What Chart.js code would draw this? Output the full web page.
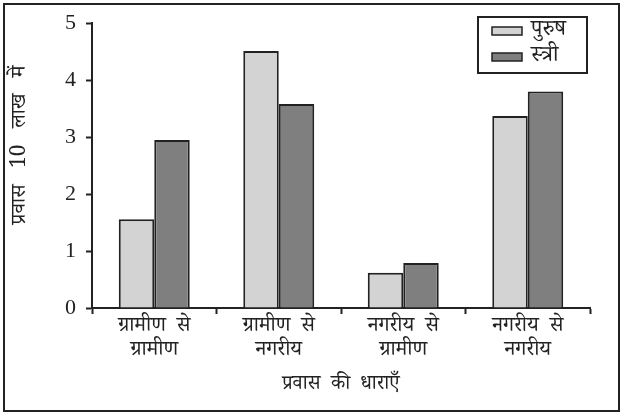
<!DOCTYPE html>
<html>
<head>
<meta charset="utf-8">
<script src="https://cdn.jsdelivr.net/npm/chart.js@4"></script>
<style>
  html, body { margin: 0; padding: 0; background: #fff; }
  #wrap { position: relative; width: 623px; height: 415px; }
  #frame { position: absolute; left: 3px; top: 3px; width: 613px; height: 405px; border: 2px solid #222; box-sizing: content-box; pointer-events: none; }
</style>
</head>
<body>
<div id="wrap">
  <canvas id="migChart" width="623" height="415"></canvas>
  <div id="frame"></div>
</div>
<script>
const categories = [
  ["ग्रामीण  से", "ग्रामीण"],
  ["ग्रामीण  से", "नगरीय"],
  ["नगरीय  से", "ग्रामीण"],
  ["नगरीय  से", "नगरीय"],
];
const seriesNames = ["पुरुष", "स्त्री"];
const maleValues = [1.56, 4.51, 0.62, 3.37];
const femaleValues = [2.95, 3.58, 0.79, 3.80];
const yTicks = [0, 1, 2, 3, 4, 5];
const yTitle = "प्रवास   10   लाख   में";
const xTitle = "प्रवास  की  धाराएँ";

const devaFont = "'Noto Serif Devanagari', 'Noto Sans Devanagari', 'Liberation Serif', serif";
const numFont = "'Liberation Serif', 'DejaVu Serif', serif";

// legend box in the top right, plus the vertical axis title (sits a bit above centre)
const extras = {
  id: "extras",
  afterDraw(chart) {
    const ctx = chart.ctx;
    const x = 478, y = 17, w = 109, h = 56;
    ctx.save();
    ctx.fillStyle = "#fff";
    ctx.fillRect(x, y, w, h);
    ctx.lineWidth = 2;
    ctx.strokeStyle = "#222";
    ctx.strokeRect(x, y, w, h);
    chart.data.datasets.forEach((ds, i) => {
      const sy = y + 14 + i * 26;
      ctx.fillStyle = ds.backgroundColor;
      ctx.fillRect(x + 14, sy - 4, 30, 8);
      ctx.lineWidth = 1.5;
      ctx.strokeStyle = "#222";
      ctx.strokeRect(x + 14, sy - 4, 30, 8);
      ctx.fillStyle = "#222";
      ctx.font = "22px " + devaFont;
      ctx.textBaseline = "middle";
      ctx.fillText(ds.label, x + 53, sy + 2);
    });

    ctx.translate(23, 145);
    ctx.rotate(-Math.PI / 2);
    ctx.font = "21px " + devaFont;
    ctx.textAlign = "center";
    ctx.textBaseline = "middle";
    ctx.fillStyle = "#222";
    ctx.fillText(yTitle, 0, 0);
    ctx.restore();
  },
};

new Chart(document.getElementById("migChart"), {
  type: "bar",
  data: {
    labels: categories,
    datasets: [
      {
        label: seriesNames[0],
        data: maleValues,
        backgroundColor: "#d3d3d3",
        borderColor: "#222",
        borderWidth: 2,
        categoryPercentage: 0.57,
        barPercentage: 1.0,
      },
      {
        label: seriesNames[1],
        data: femaleValues,
        backgroundColor: "#7f7f7f",
        borderColor: "#222",
        borderWidth: 2,
        categoryPercentage: 0.57,
        barPercentage: 1.0,
      },
    ],
  },
  options: {
    responsive: false,
    animation: false,
    layout: { padding: { top: 22, right: 33, left: 0, bottom: 0 } },
    plugins: {
      legend: { display: false },
      tooltip: { enabled: false },
    },
    scales: {
      x: {
        afterFit: (s) => { s.height = 107; },
        grid: {
          offset: true,
          drawOnChartArea: false,
          drawTicks: true,
          tickLength: 6,
          tickWidth: 2,
          tickColor: "#222",
        },
        border: { color: "#222", width: 2 },
        ticks: {
          color: "#222",
          padding: 3,
          maxRotation: 0,
          font: { family: devaFont, size: 21, lineHeight: 1.15 },
        },
        title: {
          display: true,
          text: xTitle,
          color: "#222",
          font: { family: devaFont, size: 20 },
          padding: { top: 0, bottom: 16 },
        },
      },
      y: {
        min: 0,
        max: 5,
        afterFit: (s) => { s.width = 92; },
        afterBuildTicks: (s) => { s.ticks = yTicks.map((v) => ({ value: v })); },
        grid: {
          drawOnChartArea: false,
          drawTicks: true,
          tickLength: 6,
          tickWidth: 2,
          tickColor: "#222",
        },
        border: { color: "#222", width: 2 },
        ticks: {
          color: "#222",
          padding: 10,
          font: { family: numFont, size: 22 },
        },
      },
    },
  },
  plugins: [extras],
});
</script>
</body>
</html>
